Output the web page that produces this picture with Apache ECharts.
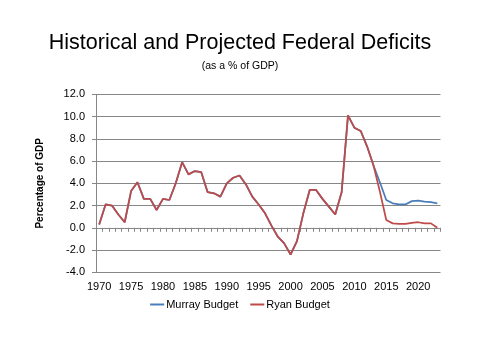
<!DOCTYPE html>
<html><head><meta charset="utf-8">
<script src="https://cdn.jsdelivr.net/npm/echarts@6/dist/echarts.min.js"></script>
<style>html,body{margin:0;padding:0;background:#fff}#c{width:480px;height:360px}</style>
</head><body><div id="c"></div>
<script>
const years = ['1970','1971','1972','1973','1974','1975','1976','1977','1978','1979',
  '1980','1981','1982','1983','1984','1985','1986','1987','1988','1989',
  '1990','1991','1992','1993','1994','1995','1996','1997','1998','1999',
  '2000','2001','2002','2003','2004','2005','2006','2007','2008','2009',
  '2010','2011','2012','2013','2014','2015','2016','2017','2018','2019',
  '2020','2021','2022','2023'];
// Historical deficits 1970-2013 (shared by both series)
const historical = [0.3, 2.1, 2.0, 1.2, 0.5, 3.3, 4.1, 2.6, 2.6, 1.6,
  2.6, 2.5, 4.0, 5.9, 4.8, 5.1, 5.0, 3.2, 3.1, 2.8,
  4.0, 4.5, 4.7, 3.9, 2.8, 2.1, 1.3, 0.2, -0.8, -1.4,
  -2.4, -1.2, 1.3, 3.4, 3.4, 2.6, 1.9, 1.2, 3.2, 10.1,
  9.0, 8.7, 7.3, 5.6];
// Projections 2014-2023
const murrayProjection = [4.1, 2.5, 2.2, 2.1, 2.1, 2.4, 2.45, 2.35, 2.3, 2.2];
const ryanProjection = [3.25, 0.7, 0.4, 0.35, 0.35, 0.45, 0.5, 0.4, 0.4, 0.0];
const murray = historical.concat(murrayProjection);
const ryan = historical.concat(ryanProjection);

const FONT = 'Liberation Sans';
const GRID = '#878787';
const chart = echarts.init(document.getElementById('c'), null, {renderer: 'canvas'});
chart.setOption({
  animation: false,
  backgroundColor: '#fff',
  title: [
    {text: 'Historical and Projected Federal Deficits', left: 'center', top: 27,
     textStyle: {fontFamily: FONT, fontSize: 21.5, fontWeight: 'normal', color: '#000'}},
    {text: '(as a % of GDP)', left: 'center', top: 56,
     textStyle: {fontFamily: FONT, fontSize: 10.5, fontWeight: 'normal', color: '#000'}}
  ],
  legend: {
    top: 294, left: 'center', itemWidth: 14, itemHeight: 2, itemGap: 12,
    icon: 'rect',
    textStyle: {fontFamily: FONT, fontSize: 11, color: '#000', padding: [0,0,0,-3]},
    data: ['Murray Budget', 'Ryan Budget']
  },
  grid: {left: 96, right: 39.5, top: 94.3, bottom: 87.7, containLabel: false},
  xAxis: {
    type: 'category', data: years, boundaryGap: true,
    axisLine: {onZero: true, lineStyle: {color: GRID, width: 1}},
    axisTick: {show: true, interval: 0, length: 4, lineStyle: {color: GRID}},
    axisLabel: {interval: 4, margin: 9, fontFamily: FONT, fontSize: 11, color: '#000'},
    splitLine: {show: false}
  },
  yAxis: {
    type: 'value', min: -4, max: 12, interval: 2,
    name: 'Percentage of GDP', nameLocation: 'middle', nameGap: 51,
    nameTextStyle: {fontFamily: FONT, fontSize: 10, fontWeight: 'bold', color: '#000'},
    axisLine: {show: true, lineStyle: {color: GRID, width: 1}},
    axisTick: {show: true, length: 4, lineStyle: {color: GRID}},
    axisLabel: {margin: 11, fontFamily: FONT, fontSize: 11, color: '#000',
      formatter: v => v.toFixed(1)},
    splitLine: {show: true, lineStyle: {color: GRID, width: 1}}
  },
  series: [
    {name: 'Murray Budget', type: 'line', data: murray, symbol: 'none',
     color: '#4A7EBB', lineStyle: {width: 1.75, color: '#4A7EBB'}},
    {name: 'Ryan Budget', type: 'line', data: ryan, symbol: 'none',
     color: '#BE4B48', lineStyle: {width: 1.75, color: '#BE4B48'}}
  ]
});
</script></body></html>
